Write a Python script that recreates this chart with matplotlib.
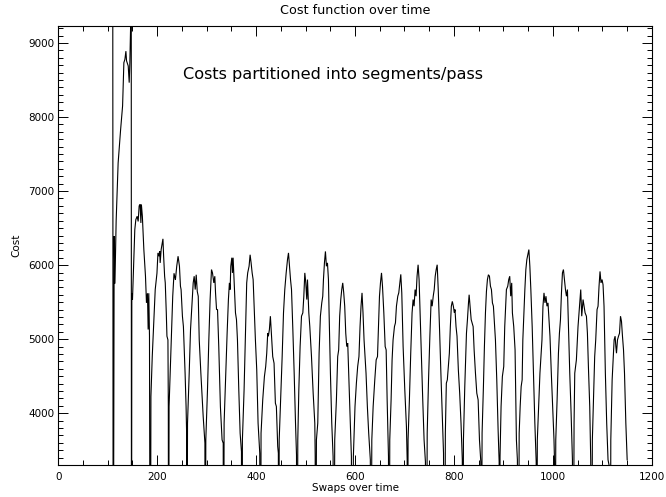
import matplotlib
matplotlib.use("Agg")
import matplotlib.pyplot as plt
from matplotlib.ticker import MultipleLocator

# ---------------- data ----------------
title = "Cost function over time"
x_label = "Swaps over time"
y_label = "Cost"
note = "Costs partitioned into segments/pass"

x_ticks = [0, 200, 400, 600, 800, 1000, 1200]
y_ticks = [4000, 5000, 6000, 7000, 8000, 9000]

# first stretch lies above the visible range
pre_swaps = [0, 110]
pre_cost = [11500, 11500]

# cost resets to this value at every pass boundary
reset_cost = 0

pass_start = [111, 148, 186, 223, 260, 297, 334, 371, 409, 446, 483, 520, 557, 595,
              632, 669, 706, 744, 781, 818, 855, 892, 930, 967, 1004, 1041, 1078, 1116]

pass_offsets = [
    [2, 3.5, 6, 10, 13.5, 15, 19, 21.6, 23.7, 25.7, 27, 30.4, 32.4, 33.7, 35.1, 36.5],
    [0.7, 2, 6.7, 8.8, 11.5, 13.5, 15.5, 17.5, 19, 20, 22, 25, 28.3, 30.3, 32.3, 33.7, 35, 36.4],
    [1.3, 4, 6.7, 10, 13.5, 15.5, 17.5, 19, 20, 22, 25.6, 27, 29, 30.3, 32.4, 33.7, 35.7, 36.5],
    [1, 4.4, 8.4, 11, 13.8, 16.5, 19.2, 22, 24, 25.3, 28, 30, 33.4, 35.4, 36.5],
    [1.3, 4.7, 7.4, 10, 12.8, 14.8, 16.9, 18.9, 21, 23, 25, 28.3, 33, 36.5],
    [1.3, 4.7, 7.4, 10, 12.8, 14.8, 17.5, 19.5, 21, 23, 25, 27.5, 30.8, 34.2, 36.5],
    [1.3, 4.7, 7.4, 10, 12, 13.5, 14.8, 16.9, 18.2, 19.5, 21.6, 24.3, 26.3, 28.3, 31, 33.7, 36.4],
    [1.3, 4.7, 8, 10, 12, 14.8, 16.9, 18.9, 21, 23, 25, 27.6, 30.3, 33, 36.4],
    [1, 4.4, 7.8, 10.4, 12.5, 14.5, 15.8, 17.9, 19.9, 22.6, 24.6, 27.3, 30, 32, 34.7, 36],
    [0.7, 4, 6.7, 9.4, 12, 14.8, 17.5, 19.5, 21.6, 23.6, 25.6, 28.3, 31, 33.7, 35.7],
    [1.3, 3.4, 6, 8.8, 11.5, 13.5, 15.5, 17.5, 19.5, 20.9, 23.6, 25.6, 29, 32.4, 35.7, 36.5],
    [2, 4.7, 7.4, 10, 12.8, 14.8, 16.2, 18.2, 20.2, 22.2, 24.3, 26.3, 27.6, 30.3, 33, 35.7],
    [2, 5.4, 8, 10, 12, 14.2, 16.2, 18.2, 20.2, 22.2, 24.3, 26.3, 28.3, 30.3, 33, 35.7],
    [1.7, 5, 7.8, 10.4, 13, 15.2, 17.2, 19.2, 21.2, 23.3, 25.3, 27.3, 30, 32.7, 36],
    [2, 4.7, 8, 10.8, 13.5, 15.5, 17.5, 19.5, 21.6, 23.6, 26.3, 29, 31, 33, 35.7],
    [1.3, 4, 6, 8, 10.8, 12.8, 14.8, 17.5, 19.5, 21.6, 23.6, 25.6, 28.3, 31.7, 35, 36.5],
    [1.3, 4, 6.7, 9.4, 11.5, 13.5, 15.5, 17.5, 19.5, 21.6, 23.6, 25.6, 28.3, 31, 33.7, 36.4],
    [2, 4.7, 7.4, 10, 12, 14.2, 16.2, 18.2, 20.2, 22.2, 24.3, 27, 29.7, 32.4, 35],
    [1.7, 3.7, 5.7, 7.8, 9.8, 11.8, 13.8, 15.8, 17.9, 19.9, 21.2, 23.3, 25.3, 28, 30.7, 33.4, 36],
    [1.3, 4, 7.4, 9.4, 11.5, 12.8, 14.8, 16.9, 18.9, 20.9, 22.9, 25.6, 28.3, 31, 33.7, 36.4],
    [2, 4.7, 6.7, 8.8, 10.8, 12.8, 14.8, 16.9, 18.9, 20.9, 22.9, 24.9, 27, 29, 31.7, 34.4, 36.5],
    [1.3, 3.4, 6, 8.8, 10.8, 14.2, 16.9, 18.9, 20.9, 22.9, 24.9, 26.3, 29, 31.7, 34.4, 36.4],
    [2, 4, 6, 8, 9.4, 11.5, 13.5, 15.5, 17.5, 19.5, 21.6, 23.6, 25.6, 28.3, 31, 33.7, 36.4],
    [1.7, 4.4, 7, 9.1, 11.1, 13.1, 15.2, 17.2, 19.2, 21.2, 23.3, 25.3, 27.3, 30, 32.7, 35.4, 36.5],
    [2, 4.7, 7.4, 9.4, 11.5, 13.5, 15.5, 17.5, 19.5, 21.6, 23.6, 25.6, 27.6, 30.3, 33, 35.7],
    [2, 3.4, 6.7, 10, 13.5, 15.5, 17.5, 20.2, 22.2, 24.3, 27, 29, 31, 33.7, 35.7],
    [2, 4.7, 6.7, 8.8, 11.5, 13.5, 15.5, 17.5, 19.5, 21.6, 23.6, 25.6, 28.3, 31, 33.7, 35.7],
    [1.3, 4, 6, 8, 10, 11.5, 12.8, 14.8, 16.9, 18.9, 20.9, 22.9, 24.9, 27, 29, 31.7, 34.4],
]

pass_cost = [
    [6390, 5750, 6600, 7380, 7700, 7830, 8150, 8735, 8780, 8890, 8760, 8690, 8465, 8735, 9190, 10000],
    [5620, 5530, 6480, 6615, 6660, 6590, 6800, 6820, 6570, 6820, 6660, 6210, 5850, 5490, 5620, 5130, 5620, 5040],
    [4225, 4767, 5170, 5670, 5890, 6165, 6120, 6190, 6030, 6210, 6355, 6120, 5850, 5760, 5350, 5040, 4990, 4090],
    [4090, 4770, 5580, 5890, 5800, 5985, 6120, 5985, 5715, 5670, 5310, 5170, 4540, 4090, 3730],
    [3865, 4540, 5130, 5440, 5760, 5850, 5670, 5870, 5645, 5580, 4990, 4540, 3955, 3595],
    [3640, 4315, 4990, 5535, 5940, 5895, 5760, 5850, 5620, 5400, 5400, 4900, 4090, 3640, 3595],
    [3865, 4540, 5080, 5535, 5760, 5670, 5985, 6100, 5895, 6100, 5760, 5355, 5265, 4990, 4315, 3730, 3480],
    [3640, 4315, 5220, 5760, 5895, 5985, 6140, 6030, 5895, 5805, 5445, 4990, 4585, 3865, 3460],
    [3730, 4180, 4495, 4630, 4810, 5080, 5040, 5130, 5310, 4990, 4765, 4675, 4135, 4090, 3550, 3460],
    [3640, 4270, 4765, 5355, 5670, 5895, 6075, 6165, 5985, 5805, 5670, 5130, 4540, 3865, 3435],
    [3640, 4315, 4900, 5310, 5355, 5580, 5895, 5760, 5535, 5805, 5355, 5170, 4765, 4270, 3865, 3415],
    [3640, 3865, 4810, 5310, 5490, 5580, 5805, 6030, 6185, 5985, 6030, 5805, 5355, 4540, 3865, 3415],
    [3640, 4180, 4765, 4855, 5310, 5535, 5670, 5760, 5625, 5445, 5080, 4900, 4945, 4540, 4000, 3415],
    [3415, 4090, 4405, 4630, 4765, 5170, 5445, 5625, 5355, 4990, 4765, 4540, 4090, 3730, 3370],
    [3640, 4090, 4450, 4720, 4765, 5170, 5580, 5760, 5895, 5715, 5355, 4900, 4855, 4180, 3415],
    [3640, 4180, 4720, 4990, 5170, 5220, 5445, 5580, 5625, 5760, 5875, 5625, 4900, 4315, 3820, 3370],
    [3640, 4180, 4810, 5355, 5535, 5445, 5670, 5580, 5850, 6005, 5805, 5355, 4765, 4180, 3640, 3345],
    [3730, 4450, 5040, 5535, 5445, 5580, 5670, 5850, 5940, 6005, 5670, 5130, 4540, 4000, 3460],
    [3730, 4405, 4450, 4630, 4810, 5170, 5445, 5510, 5445, 5355, 5400, 5170, 5040, 4585, 4270, 3865, 3370],
    [3640, 4360, 5080, 5265, 5490, 5600, 5445, 5265, 5220, 5170, 4855, 4540, 4270, 4180, 3640, 3345],
    [3730, 4360, 4900, 5355, 5645, 5805, 5870, 5850, 5715, 5670, 5490, 5445, 5220, 4990, 4450, 3775, 3345],
    [3415, 4090, 4495, 4630, 5170, 5670, 5715, 5805, 5850, 5580, 5760, 5355, 5170, 4855, 3640, 3370],
    [3730, 4090, 4360, 4450, 4990, 5355, 5670, 5940, 6075, 6140, 6210, 5985, 5670, 5170, 4540, 3865, 3345],
    [3640, 4090, 4540, 4765, 4990, 5445, 5625, 5490, 5580, 5445, 5490, 5265, 5040, 4540, 4090, 3640, 3345],
    [3640, 4180, 4810, 5080, 5265, 5625, 5895, 5940, 5805, 5670, 5580, 5670, 5170, 4540, 4000, 3370],
    [3865, 4540, 4720, 5170, 5490, 5670, 5310, 5535, 5445, 5355, 5310, 5080, 4630, 4090, 3370],
    [3640, 4315, 4765, 4990, 5400, 5445, 5715, 5915, 5760, 5805, 5735, 5445, 4540, 3865, 3370, 3300],
    [3640, 4450, 4720, 4990, 5040, 4900, 4810, 4990, 5040, 5080, 5310, 5240, 5040, 4855, 4540, 3865, 3370],
]

# ---------------- build the series ----------------
swaps = list(pre_swaps)
cost = list(pre_cost)
for start, offs, vals in zip(pass_start, pass_offsets, pass_cost):
    swaps.append(start)
    cost.append(reset_cost)
    swaps.extend(start + o for o in offs)
    cost.extend(vals)

# ---------------- figure ----------------
plt.rcParams['font.family'] = ['DejaVu Sans']
W, H = 666, 497
fig = plt.figure(figsize=(W / 100, H / 100), dpi=100)
ax = fig.add_axes([58.3 / W, (H - 465) / H, 593.4 / W, 439 / H])

ax.plot(swaps, cost, color='black', lw=0.8, solid_joinstyle='miter')

ax.set_xlim(0, 1200)
ax.set_ylim(3300, 9230)
ax.set_xticks(x_ticks)
ax.set_yticks(y_ticks)
ax.xaxis.set_minor_locator(MultipleLocator(50))
ax.yaxis.set_minor_locator(MultipleLocator(100))
ax.tick_params(which='both', direction='in', top=True, right=True,
               width=0.7, color='black', labelsize=7.5)
ax.tick_params(axis='x', which='major', length=7, pad=5)
ax.tick_params(axis='x', which='minor', length=3.5)
ax.tick_params(axis='y', which='major', length=7, pad=3)
ax.tick_params(axis='y', which='minor', length=3.5)
for s in ax.spines.values():
    s.set_linewidth(0.8)

fig.text(355 / W, 1 - 11 / H, title, ha='center', va='center', fontsize=9.2)
fig.text(355 / W, 1 - 488 / H, x_label, ha='center', va='center', fontsize=7.5)
fig.text(16 / W, 1 - 245 / H, y_label, ha='center', va='center', rotation=90, fontsize=7.5)
ax.text(183 / W, 1 - 75 / H, note, transform=fig.transFigure,
        ha='left', va='center', fontsize=11.6)

fig.savefig("out.png", dpi=100)
